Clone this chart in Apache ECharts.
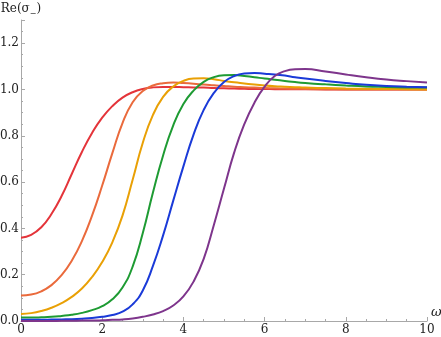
<!DOCTYPE html>
<html>
<head>
<meta charset="utf-8">
<script src="https://cdn.jsdelivr.net/npm/echarts@6/dist/echarts.min.js"></script>
<style>
  html, body { margin: 0; padding: 0; background: #fff; }
  #chart { width: 441px; height: 337px; }
</style>
</head>
<body>
<div id="chart"></div>
<script>
// shared omega grid
const omega = [0, 0.25, 0.5, 0.75, 1, 1.25, 1.5, 1.75, 2, 2.25, 2.5, 2.75, 3, 3.25, 3.5, 3.75, 4, 4.25, 4.5, 4.75,
  5, 5.25, 5.5, 5.75, 6, 6.25, 6.5, 6.75, 7, 7.5, 8, 8.5, 9, 9.5, 10]

const red = [0.360, 0.372, 0.405, 0.462, 0.540, 0.635, 0.730, 0.812, 0.878, 0.928, 0.965, 0.988, 1.002, 1.009, 1.011, 1.011, 1.010, 1.009, 1.008, 1.006,
  1.005, 1.004, 1.003, 1.002, 1.002, 1.001, 1.001, 1.001, 1.001, 1.000, 1.000, 1.000, 1.000, 1.000, 1.000]
const orange = [0.110, 0.114, 0.128, 0.155, 0.198, 0.260, 0.345, 0.455, 0.585, 0.725, 0.855, 0.945, 0.993, 1.017, 1.027, 1.030, 1.028, 1.025, 1.021, 1.018,
  1.015, 1.012, 1.010, 1.008, 1.006, 1.005, 1.004, 1.003, 1.002, 1.001, 1.000, 1.000, 1.000, 1.000, 1.000]
const yellow = [0.030, 0.034, 0.043, 0.057, 0.077, 0.104, 0.140, 0.190, 0.255, 0.340, 0.455, 0.610, 0.770, 0.890, 0.968, 1.013, 1.037, 1.047, 1.048, 1.044,
  1.037, 1.031, 1.026, 1.021, 1.017, 1.014, 1.012, 1.010, 1.008, 1.006, 1.004, 1.003, 1.002, 1.001, 1.000]
const green = [0.015, 0.015, 0.016, 0.018, 0.022, 0.027, 0.035, 0.047, 0.064, 0.094, 0.145, 0.235, 0.380, 0.555, 0.715, 0.845, 0.937, 0.995, 1.033, 1.053,
  1.061, 1.062, 1.058, 1.053, 1.047, 1.042, 1.037, 1.032, 1.028, 1.022, 1.017, 1.013, 1.011, 1.009, 1.008]
const blue = [0.005, 0.005, 0.005, 0.006, 0.007, 0.008, 0.010, 0.013, 0.018, 0.026, 0.040, 0.072, 0.132, 0.238, 0.370, 0.520, 0.668, 0.805, 0.912, 0.985,
  1.032, 1.058, 1.069, 1.071, 1.068, 1.065, 1.060, 1.053, 1.047, 1.037, 1.028, 1.020, 1.015, 1.012, 1.010]
const purple = [0.000, 0.000, 0.000, 0.000, 0.001, 0.001, 0.002, 0.002, 0.003, 0.005, 0.007, 0.011, 0.018, 0.028, 0.043, 0.067, 0.106, 0.170, 0.268, 0.415,
  0.572, 0.727, 0.850, 0.943, 1.012, 1.058, 1.079, 1.087, 1.088, 1.078, 1.065, 1.053, 1.043, 1.036, 1.030]

const curves = [
  { name: 'c1', values: red, color: '#E4343A' },
  { name: 'c2', values: orange, color: '#EA6A3C' },
  { name: 'c3', values: yellow, color: '#E9A005' },
  { name: 'c4', values: green, color: '#1E9B33' },
  { name: 'c5', values: blue, color: '#1A3AD8' },
  { name: 'c6', values: purple, color: '#7E358C' }
]

const axisGray = '#a8a8a8'
const serif = 'DejaVu Serif'

const chart = echarts.init(document.getElementById('chart'), null, { renderer: 'canvas' })

chart.setOption({
  animation: false,
  textStyle: { fontFamily: serif },
  grid: { left: 21, right: 14, top: 20, bottom: 16, outerBoundsMode: 'none', containLabel: false },
  xAxis: {
    type: 'value',
    min: 0,
    max: 10,
    interval: 2,
    name: 'ω',
    nameLocation: 'end',
    nameGap: 4,
    nameTextStyle: { fontFamily: serif, fontStyle: 'italic', fontSize: 13, color: '#222', align: 'left', verticalAlign: 'bottom', padding: [0, 0, 2, 0] },
    axisLine: { lineStyle: { color: axisGray, width: 1 } },
    axisTick: { inside: true, length: 4, lineStyle: { color: axisGray } },
    minorTick: { show: true, splitNumber: 4, length: 2, lineStyle: { color: axisGray } },
    splitLine: { show: false },
    axisLabel: { fontFamily: serif, fontSize: 12, color: '#222', margin: 3 }
  },
  yAxis: {
    type: 'value',
    min: 0,
    max: 1.3,
    interval: 0.2,
    name: 'Re(σ{sub|−})',
    nameLocation: 'end',
    nameGap: 5,
    nameTextStyle: {
      fontFamily: serif, fontSize: 12, color: '#222', align: 'center', verticalAlign: 'bottom',
      rich: { sub: { fontFamily: serif, fontSize: 8, color: '#222', verticalAlign: 'bottom', padding: [0, 0, -3, 0] } }
    },
    axisLine: { lineStyle: { color: axisGray, width: 1 } },
    axisTick: { inside: true, length: 4, lineStyle: { color: axisGray } },
    minorTick: { show: true, splitNumber: 4, length: 2, lineStyle: { color: axisGray } },
    splitLine: { show: false },
    axisLabel: {
      fontFamily: serif, fontSize: 12, color: '#222', margin: 2, showMaxLabel: false,
      formatter: v => v.toFixed(1)
    }
  },
  series: curves.map(c => ({
    name: c.name,
    type: 'line',
    data: omega.map((w, i) => [w, c.values[i]]),
    smooth: 0.5,
    showSymbol: false,
    lineStyle: { color: c.color, width: 2 },
    z: 2
  }))
})
</script>
</body>
</html>
